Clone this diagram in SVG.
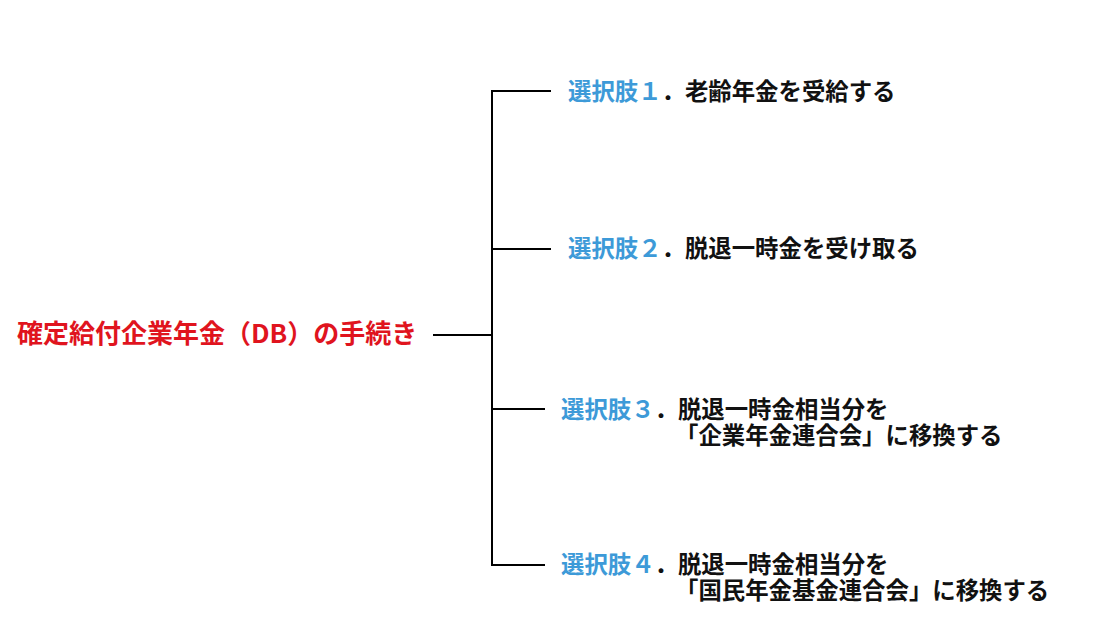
<svg xmlns="http://www.w3.org/2000/svg" width="1116" height="627" viewBox="0 0 1116 627">
<style>
text{font-family:"Noto Sans CJK JP","Noto Sans",sans-serif;font-weight:bold;}
.t{font-size:23.4px;fill:#111;}
.b{fill:#3d9ad8;}
.m{font-size:26px;fill:#e0141e;}
.c{stroke:#000;fill:none;stroke-width:2;}
</style>
<rect width="1116" height="627" fill="#fff"/>
<g id="connectors">
<line class="c" x1="433" y1="335" x2="492" y2="335" stroke-width="3"/>
<line class="c" x1="492" y1="91" x2="492" y2="566"/>
<line class="c" x1="491" y1="91" x2="551" y2="91"/>
<line class="c" x1="491" y1="249" x2="551" y2="249"/>
<line class="c" x1="491" y1="409" x2="545" y2="409"/>
<line class="c" x1="491" y1="565" x2="545" y2="565"/>
</g>
<g id="root"><text class="m" x="17" y="343">確定給付企業年金（DB）の手続き</text></g>
<g id="opt1"><text class="t" x="568" y="100"><tspan class="b">選択肢１</tspan>．老齢年金を受給する</text></g>
<g id="opt2"><text class="t" x="568" y="257"><tspan class="b">選択肢２</tspan>．脱退一時金を受け取る</text></g>
<g id="opt3"><text class="t" x="561" y="418"><tspan class="b">選択肢３</tspan>．脱退一時金相当分を<tspan x="675" y="444">「企業年金連合会」に移換する</tspan></text></g>
<g id="opt4"><text class="t" x="561" y="573"><tspan class="b">選択肢４</tspan>．脱退一時金相当分を<tspan x="675" y="599">「国民年金基金連合会」に移換する</tspan></text></g>
</svg>
